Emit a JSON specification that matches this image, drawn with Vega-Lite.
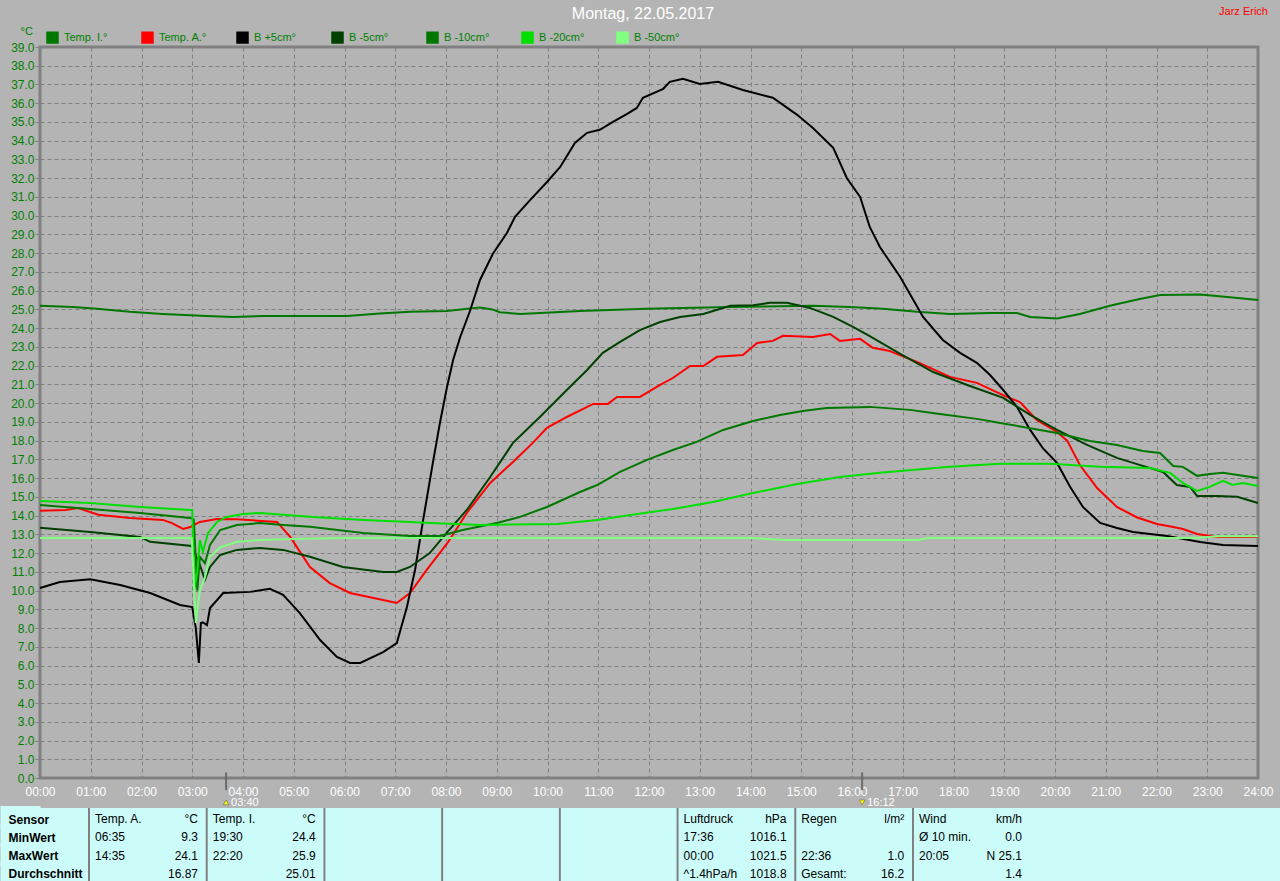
{
"$schema": "https://vega.github.io/schema/vega-lite/v6.json",
"background": "#b4b4b4",
"padding": {"left": -12, "top": 4, "right": 0, "bottom": 0},
"bounds": "flush",
"spacing": 30,
"config": {"font": "Liberation Sans", "view": {"stroke": null}},
"datasets": {
"messwerte": [
{"h":0,"s":"Temp. I.°","v":25.2},{"h":0.65,"s":"Temp. I.°","v":25.13},{"h":1.12,"s":"Temp. I.°","v":25.03},{"h":1.77,"s":"Temp. I.°","v":24.87},{"h":2.42,"s":"Temp. I.°","v":24.76},{"h":3.29,"s":"Temp. I.°","v":24.65},{"h":3.8,"s":"Temp. I.°","v":24.6},{"h":4.39,"s":"Temp. I.°","v":24.65},{"h":6.05,"s":"Temp. I.°","v":24.65},{"h":6.7,"s":"Temp. I.°","v":24.78},{"h":7.29,"s":"Temp. I.°","v":24.87},{"h":8.02,"s":"Temp. I.°","v":24.92},{"h":8.47,"s":"Temp. I.°","v":25.05},{"h":8.67,"s":"Temp. I.°","v":25.1},{"h":8.91,"s":"Temp. I.°","v":25.0},{"h":9.06,"s":"Temp. I.°","v":24.85},{"h":9.46,"s":"Temp. I.°","v":24.76},{"h":10.64,"s":"Temp. I.°","v":24.92},{"h":11.96,"s":"Temp. I.°","v":25.03},{"h":13.6,"s":"Temp. I.°","v":25.13},{"h":15.23,"s":"Temp. I.°","v":25.19},{"h":15.96,"s":"Temp. I.°","v":25.13},{"h":16.61,"s":"Temp. I.°","v":25.03},{"h":17.28,"s":"Temp. I.°","v":24.87},{"h":17.93,"s":"Temp. I.°","v":24.76},{"h":18.72,"s":"Temp. I.°","v":24.81},{"h":19.25,"s":"Temp. I.°","v":24.81},{"h":19.51,"s":"Temp. I.°","v":24.6},{"h":20.04,"s":"Temp. I.°","v":24.52},{"h":20.49,"s":"Temp. I.°","v":24.76},{"h":21.08,"s":"Temp. I.°","v":25.2},{"h":21.67,"s":"Temp. I.°","v":25.56},{"h":22.07,"s":"Temp. I.°","v":25.77},{"h":22.86,"s":"Temp. I.°","v":25.8},{"h":23.5,"s":"Temp. I.°","v":25.63},{"h":24,"s":"Temp. I.°","v":25.5},
{"h":0,"s":"Temp. A.°","v":14.26},{"h":0.5,"s":"Temp. A.°","v":14.3},{"h":0.75,"s":"Temp. A.°","v":14.4},{"h":1.15,"s":"Temp. A.°","v":14.05},{"h":1.77,"s":"Temp. A.°","v":13.87},{"h":2.42,"s":"Temp. A.°","v":13.77},{"h":2.6,"s":"Temp. A.°","v":13.6},{"h":2.82,"s":"Temp. A.°","v":13.29},{"h":2.96,"s":"Temp. A.°","v":13.39},{"h":3.1,"s":"Temp. A.°","v":13.6},{"h":3.15,"s":"Temp. A.°","v":13.66},{"h":3.49,"s":"Temp. A.°","v":13.82},{"h":3.88,"s":"Temp. A.°","v":13.8},{"h":4.67,"s":"Temp. A.°","v":13.66},{"h":4.93,"s":"Temp. A.°","v":12.86},{"h":5.32,"s":"Temp. A.°","v":11.26},{"h":5.71,"s":"Temp. A.°","v":10.4},{"h":6.11,"s":"Temp. A.°","v":9.87},{"h":6.76,"s":"Temp. A.°","v":9.5},{"h":7.03,"s":"Temp. A.°","v":9.34},{"h":7.29,"s":"Temp. A.°","v":9.87},{"h":7.62,"s":"Temp. A.°","v":11.1},{"h":8.03,"s":"Temp. A.°","v":12.54},{"h":8.41,"s":"Temp. A.°","v":14.14},{"h":8.87,"s":"Temp. A.°","v":15.74},{"h":9.32,"s":"Temp. A.°","v":16.86},{"h":9.71,"s":"Temp. A.°","v":17.88},{"h":9.99,"s":"Temp. A.°","v":18.68},{"h":10.38,"s":"Temp. A.°","v":19.26},{"h":10.9,"s":"Temp. A.°","v":19.96},{"h":11.19,"s":"Temp. A.°","v":19.96},{"h":11.37,"s":"Temp. A.°","v":20.33},{"h":11.82,"s":"Temp. A.°","v":20.33},{"h":12.22,"s":"Temp. A.°","v":20.97},{"h":12.47,"s":"Temp. A.°","v":21.34},{"h":12.81,"s":"Temp. A.°","v":21.98},{"h":13.07,"s":"Temp. A.°","v":21.98},{"h":13.34,"s":"Temp. A.°","v":22.47},{"h":13.85,"s":"Temp. A.°","v":22.57},{"h":14.13,"s":"Temp. A.°","v":23.21},{"h":14.44,"s":"Temp. A.°","v":23.32},{"h":14.64,"s":"Temp. A.°","v":23.59},{"h":15.23,"s":"Temp. A.°","v":23.53},{"h":15.57,"s":"Temp. A.°","v":23.69},{"h":15.76,"s":"Temp. A.°","v":23.32},{"h":16.16,"s":"Temp. A.°","v":23.43},{"h":16.41,"s":"Temp. A.°","v":22.95},{"h":16.72,"s":"Temp. A.°","v":22.8},{"h":17.28,"s":"Temp. A.°","v":22.2},{"h":17.93,"s":"Temp. A.°","v":21.4},{"h":18.46,"s":"Temp. A.°","v":21.08},{"h":19.05,"s":"Temp. A.°","v":20.33},{"h":19.31,"s":"Temp. A.°","v":20.06},{"h":19.64,"s":"Temp. A.°","v":19.1},{"h":20.04,"s":"Temp. A.°","v":18.46},{"h":20.24,"s":"Temp. A.°","v":18.0},{"h":20.49,"s":"Temp. A.°","v":16.7},{"h":20.83,"s":"Temp. A.°","v":15.47},{"h":21.22,"s":"Temp. A.°","v":14.46},{"h":21.62,"s":"Temp. A.°","v":13.9},{"h":22.01,"s":"Temp. A.°","v":13.55},{"h":22.33,"s":"Temp. A.°","v":13.39},{"h":22.52,"s":"Temp. A.°","v":13.28},{"h":22.8,"s":"Temp. A.°","v":13.02},{"h":23.19,"s":"Temp. A.°","v":12.86},{"h":24,"s":"Temp. A.°","v":12.86},
{"h":0,"s":"B +5cm°","v":10.14},{"h":0.39,"s":"B +5cm°","v":10.46},{"h":0.99,"s":"B +5cm°","v":10.6},{"h":1.58,"s":"B +5cm°","v":10.3},{"h":2.17,"s":"B +5cm°","v":9.87},{"h":2.76,"s":"B +5cm°","v":9.23},{"h":3.0,"s":"B +5cm°","v":9.12},{"h":3.07,"s":"B +5cm°","v":8.0},{"h":3.13,"s":"B +5cm°","v":6.14},{"h":3.17,"s":"B +5cm°","v":8.27},{"h":3.21,"s":"B +5cm°","v":8.3},{"h":3.29,"s":"B +5cm°","v":8.16},{"h":3.35,"s":"B +5cm°","v":9.07},{"h":3.61,"s":"B +5cm°","v":9.87},{"h":4.14,"s":"B +5cm°","v":9.93},{"h":4.53,"s":"B +5cm°","v":10.09},{"h":4.79,"s":"B +5cm°","v":9.77},{"h":5.12,"s":"B +5cm°","v":8.8},{"h":5.52,"s":"B +5cm°","v":7.36},{"h":5.85,"s":"B +5cm°","v":6.46},{"h":6.11,"s":"B +5cm°","v":6.14},{"h":6.31,"s":"B +5cm°","v":6.14},{"h":6.76,"s":"B +5cm°","v":6.72},{"h":7.03,"s":"B +5cm°","v":7.2},{"h":7.23,"s":"B +5cm°","v":9.12},{"h":7.39,"s":"B +5cm°","v":11.1},{"h":7.55,"s":"B +5cm°","v":13.77},{"h":7.74,"s":"B +5cm°","v":16.8},{"h":7.88,"s":"B +5cm°","v":18.94},{"h":8.02,"s":"B +5cm°","v":20.86},{"h":8.14,"s":"B +5cm°","v":22.3},{"h":8.28,"s":"B +5cm°","v":23.53},{"h":8.47,"s":"B +5cm°","v":24.9},{"h":8.67,"s":"B +5cm°","v":26.57},{"h":8.93,"s":"B +5cm°","v":28.0},{"h":9.2,"s":"B +5cm°","v":29.08},{"h":9.36,"s":"B +5cm°","v":29.94},{"h":9.66,"s":"B +5cm°","v":30.84},{"h":9.99,"s":"B +5cm°","v":31.8},{"h":10.25,"s":"B +5cm°","v":32.6},{"h":10.54,"s":"B +5cm°","v":33.88},{"h":10.78,"s":"B +5cm°","v":34.42},{"h":11.03,"s":"B +5cm°","v":34.58},{"h":11.29,"s":"B +5cm°","v":35.0},{"h":11.57,"s":"B +5cm°","v":35.43},{"h":11.76,"s":"B +5cm°","v":35.75},{"h":11.88,"s":"B +5cm°","v":36.29},{"h":12.28,"s":"B +5cm°","v":36.77},{"h":12.41,"s":"B +5cm°","v":37.14},{"h":12.67,"s":"B +5cm°","v":37.3},{"h":13.0,"s":"B +5cm°","v":37.03},{"h":13.36,"s":"B +5cm°","v":37.14},{"h":13.85,"s":"B +5cm°","v":36.71},{"h":14.44,"s":"B +5cm°","v":36.29},{"h":14.92,"s":"B +5cm°","v":35.38},{"h":15.23,"s":"B +5cm°","v":34.68},{"h":15.63,"s":"B +5cm°","v":33.62},{"h":15.9,"s":"B +5cm°","v":32.0},{"h":16.16,"s":"B +5cm°","v":31.0},{"h":16.35,"s":"B +5cm°","v":29.4},{"h":16.55,"s":"B +5cm°","v":28.33},{"h":16.95,"s":"B +5cm°","v":26.73},{"h":17.4,"s":"B +5cm°","v":24.6},{"h":17.79,"s":"B +5cm°","v":23.37},{"h":18.13,"s":"B +5cm°","v":22.68},{"h":18.46,"s":"B +5cm°","v":22.15},{"h":18.72,"s":"B +5cm°","v":21.5},{"h":18.98,"s":"B +5cm°","v":20.7},{"h":19.25,"s":"B +5cm°","v":19.8},{"h":19.51,"s":"B +5cm°","v":18.57},{"h":19.76,"s":"B +5cm°","v":17.6},{"h":20.04,"s":"B +5cm°","v":16.81},{"h":20.3,"s":"B +5cm°","v":15.53},{"h":20.55,"s":"B +5cm°","v":14.46},{"h":20.89,"s":"B +5cm°","v":13.61},{"h":21.22,"s":"B +5cm°","v":13.34},{"h":21.54,"s":"B +5cm°","v":13.13},{"h":22.21,"s":"B +5cm°","v":12.91},{"h":22.86,"s":"B +5cm°","v":12.59},{"h":23.31,"s":"B +5cm°","v":12.43},{"h":24,"s":"B +5cm°","v":12.38},
{"h":0,"s":"B -5cm°","v":13.35},{"h":0.99,"s":"B -5cm°","v":13.13},{"h":1.97,"s":"B -5cm°","v":12.86},{"h":2.17,"s":"B -5cm°","v":12.6},{"h":2.99,"s":"B -5cm°","v":12.38},{"h":3.15,"s":"B -5cm°","v":11.37},{"h":3.25,"s":"B -5cm°","v":10.57},{"h":3.35,"s":"B -5cm°","v":11.26},{"h":3.55,"s":"B -5cm°","v":11.9},{"h":3.88,"s":"B -5cm°","v":12.17},{"h":4.33,"s":"B -5cm°","v":12.27},{"h":4.79,"s":"B -5cm°","v":12.17},{"h":5.32,"s":"B -5cm°","v":11.8},{"h":5.97,"s":"B -5cm°","v":11.26},{"h":6.76,"s":"B -5cm°","v":10.99},{"h":7.03,"s":"B -5cm°","v":10.99},{"h":7.29,"s":"B -5cm°","v":11.26},{"h":7.68,"s":"B -5cm°","v":12.0},{"h":8.02,"s":"B -5cm°","v":13.1},{"h":8.41,"s":"B -5cm°","v":14.3},{"h":8.87,"s":"B -5cm°","v":16.06},{"h":9.32,"s":"B -5cm°","v":17.88},{"h":9.85,"s":"B -5cm°","v":19.26},{"h":10.38,"s":"B -5cm°","v":20.7},{"h":10.78,"s":"B -5cm°","v":21.77},{"h":11.09,"s":"B -5cm°","v":22.68},{"h":11.43,"s":"B -5cm°","v":23.27},{"h":11.82,"s":"B -5cm°","v":23.9},{"h":12.22,"s":"B -5cm°","v":24.33},{"h":12.61,"s":"B -5cm°","v":24.6},{"h":13.07,"s":"B -5cm°","v":24.76},{"h":13.6,"s":"B -5cm°","v":25.19},{"h":14.05,"s":"B -5cm°","v":25.22},{"h":14.38,"s":"B -5cm°","v":25.35},{"h":14.72,"s":"B -5cm°","v":25.35},{"h":15.17,"s":"B -5cm°","v":25.08},{"h":15.63,"s":"B -5cm°","v":24.6},{"h":16.02,"s":"B -5cm°","v":24.07},{"h":16.35,"s":"B -5cm°","v":23.58},{"h":16.95,"s":"B -5cm°","v":22.63},{"h":17.6,"s":"B -5cm°","v":21.66},{"h":18.27,"s":"B -5cm°","v":20.97},{"h":18.98,"s":"B -5cm°","v":20.28},{"h":19.51,"s":"B -5cm°","v":19.37},{"h":20.04,"s":"B -5cm°","v":18.57},{"h":20.63,"s":"B -5cm°","v":17.77},{"h":21.22,"s":"B -5cm°","v":17.08},{"h":21.73,"s":"B -5cm°","v":16.65},{"h":22.13,"s":"B -5cm°","v":16.33},{"h":22.4,"s":"B -5cm°","v":15.63},{"h":22.66,"s":"B -5cm°","v":15.53},{"h":22.8,"s":"B -5cm°","v":15.05},{"h":23.19,"s":"B -5cm°","v":15.05},{"h":23.59,"s":"B -5cm°","v":15.0},{"h":24,"s":"B -5cm°","v":14.67},
{"h":0,"s":"B -10cm°","v":14.57},{"h":0.99,"s":"B -10cm°","v":14.35},{"h":1.97,"s":"B -10cm°","v":14.14},{"h":2.96,"s":"B -10cm°","v":13.87},{"h":3.03,"s":"B -10cm°","v":13.8},{"h":3.1,"s":"B -10cm°","v":10.0},{"h":3.15,"s":"B -10cm°","v":11.8},{"h":3.25,"s":"B -10cm°","v":11.47},{"h":3.35,"s":"B -10cm°","v":12.43},{"h":3.55,"s":"B -10cm°","v":13.23},{"h":3.88,"s":"B -10cm°","v":13.5},{"h":4.33,"s":"B -10cm°","v":13.6},{"h":4.79,"s":"B -10cm°","v":13.5},{"h":5.32,"s":"B -10cm°","v":13.4},{"h":6.37,"s":"B -10cm°","v":13.07},{"h":7.29,"s":"B -10cm°","v":12.91},{"h":7.88,"s":"B -10cm°","v":12.91},{"h":8.33,"s":"B -10cm°","v":13.23},{"h":9.0,"s":"B -10cm°","v":13.6},{"h":9.46,"s":"B -10cm°","v":13.93},{"h":9.99,"s":"B -10cm°","v":14.46},{"h":10.64,"s":"B -10cm°","v":15.26},{"h":10.98,"s":"B -10cm°","v":15.63},{"h":11.43,"s":"B -10cm°","v":16.33},{"h":11.96,"s":"B -10cm°","v":16.97},{"h":12.47,"s":"B -10cm°","v":17.5},{"h":12.94,"s":"B -10cm°","v":17.93},{"h":13.46,"s":"B -10cm°","v":18.57},{"h":14.05,"s":"B -10cm°","v":19.05},{"h":14.58,"s":"B -10cm°","v":19.37},{"h":15.03,"s":"B -10cm°","v":19.58},{"h":15.5,"s":"B -10cm°","v":19.74},{"h":16.35,"s":"B -10cm°","v":19.8},{"h":17.14,"s":"B -10cm°","v":19.64},{"h":17.73,"s":"B -10cm°","v":19.42},{"h":18.46,"s":"B -10cm°","v":19.16},{"h":18.92,"s":"B -10cm°","v":18.94},{"h":19.37,"s":"B -10cm°","v":18.73},{"h":20.04,"s":"B -10cm°","v":18.41},{"h":20.69,"s":"B -10cm°","v":17.98},{"h":21.22,"s":"B -10cm°","v":17.77},{"h":21.73,"s":"B -10cm°","v":17.45},{"h":22.07,"s":"B -10cm°","v":17.34},{"h":22.33,"s":"B -10cm°","v":16.65},{"h":22.52,"s":"B -10cm°","v":16.6},{"h":22.8,"s":"B -10cm°","v":16.12},{"h":23.05,"s":"B -10cm°","v":16.22},{"h":23.31,"s":"B -10cm°","v":16.28},{"h":23.7,"s":"B -10cm°","v":16.12},{"h":24,"s":"B -10cm°","v":16.0},
{"h":0,"s":"B -20cm°","v":14.78},{"h":0.99,"s":"B -20cm°","v":14.67},{"h":1.97,"s":"B -20cm°","v":14.46},{"h":2.96,"s":"B -20cm°","v":14.3},{"h":3.0,"s":"B -20cm°","v":14.3},{"h":3.04,"s":"B -20cm°","v":10.0},{"h":3.1,"s":"B -20cm°","v":11.0},{"h":3.15,"s":"B -20cm°","v":12.7},{"h":3.21,"s":"B -20cm°","v":12.06},{"h":3.31,"s":"B -20cm°","v":13.07},{"h":3.49,"s":"B -20cm°","v":13.66},{"h":3.68,"s":"B -20cm°","v":13.93},{"h":4.0,"s":"B -20cm°","v":14.09},{"h":4.33,"s":"B -20cm°","v":14.14},{"h":5.38,"s":"B -20cm°","v":13.93},{"h":6.37,"s":"B -20cm°","v":13.77},{"h":7.29,"s":"B -20cm°","v":13.66},{"h":7.7,"s":"B -20cm°","v":13.6},{"h":8.67,"s":"B -20cm°","v":13.5},{"h":10.19,"s":"B -20cm°","v":13.55},{"h":10.98,"s":"B -20cm°","v":13.77},{"h":11.63,"s":"B -20cm°","v":14.03},{"h":12.47,"s":"B -20cm°","v":14.35},{"h":13.26,"s":"B -20cm°","v":14.73},{"h":14.05,"s":"B -20cm°","v":15.2},{"h":14.92,"s":"B -20cm°","v":15.69},{"h":15.76,"s":"B -20cm°","v":16.06},{"h":16.55,"s":"B -20cm°","v":16.28},{"h":16.95,"s":"B -20cm°","v":16.38},{"h":17.93,"s":"B -20cm°","v":16.6},{"h":18.92,"s":"B -20cm°","v":16.76},{"h":19.9,"s":"B -20cm°","v":16.76},{"h":20.89,"s":"B -20cm°","v":16.6},{"h":21.87,"s":"B -20cm°","v":16.54},{"h":22.27,"s":"B -20cm°","v":16.28},{"h":22.52,"s":"B -20cm°","v":15.74},{"h":22.8,"s":"B -20cm°","v":15.31},{"h":23.05,"s":"B -20cm°","v":15.53},{"h":23.31,"s":"B -20cm°","v":15.85},{"h":23.5,"s":"B -20cm°","v":15.63},{"h":23.7,"s":"B -20cm°","v":15.74},{"h":24,"s":"B -20cm°","v":15.58},
{"h":0,"s":"B -50cm°","v":12.8},{"h":2.99,"s":"B -50cm°","v":12.8},{"h":3.07,"s":"B -50cm°","v":8.27},{"h":3.15,"s":"B -50cm°","v":10.0},{"h":3.25,"s":"B -50cm°","v":10.7},{"h":3.35,"s":"B -50cm°","v":11.8},{"h":3.55,"s":"B -50cm°","v":12.3},{"h":3.88,"s":"B -50cm°","v":12.6},{"h":4.33,"s":"B -50cm°","v":12.7},{"h":4.93,"s":"B -50cm°","v":12.75},{"h":6.0,"s":"B -50cm°","v":12.8},{"h":14.0,"s":"B -50cm°","v":12.8},{"h":14.7,"s":"B -50cm°","v":12.7},{"h":17.3,"s":"B -50cm°","v":12.7},{"h":17.5,"s":"B -50cm°","v":12.8},{"h":22.8,"s":"B -50cm°","v":12.8},{"h":23.2,"s":"B -50cm°","v":12.9},{"h":24,"s":"B -50cm°","v":12.9}
],
"ereignisse": [
{"h": 3.667, "zeit": "03:40", "art": "Sonnenaufgang"},
{"h": 16.2, "zeit": "16:12", "art": "Sonnenuntergang"}
],
"autor": [{"name": "Jarz Erich"}],
"spalten": [{"spalte":1},{"spalte":2},{"spalte":3},{"spalte":4},{"spalte":5},{"spalte":6},{"spalte":7},{"spalte":8}],
"tabelle": [
{"zeile":"Sensor","spalte":1,"links":"Temp. A.","rechts":"°C"},
{"zeile":"Sensor","spalte":2,"links":"Temp. I.","rechts":"°C"},
{"zeile":"Sensor","spalte":6,"links":"Luftdruck","rechts":"hPa"},
{"zeile":"Sensor","spalte":7,"links":"Regen","rechts":"l/m²"},
{"zeile":"Sensor","spalte":8,"links":"Wind","rechts":"km/h"},
{"zeile":"MinWert","spalte":1,"links":"\u00a0\u00a006:35","rechts":"9.3"},
{"zeile":"MinWert","spalte":2,"links":"\u00a0\u00a019:30","rechts":"24.4"},
{"zeile":"MinWert","spalte":6,"links":"\u00a0\u00a017:36","rechts":"1016.1"},
{"zeile":"MinWert","spalte":8,"links":"Ø 10 min.","rechts":"0.0"},
{"zeile":"MaxWert","spalte":1,"links":"\u00a0\u00a014:35","rechts":"24.1"},
{"zeile":"MaxWert","spalte":2,"links":"\u00a0\u00a022:20","rechts":"25.9"},
{"zeile":"MaxWert","spalte":6,"links":"\u00a0\u00a000:00","rechts":"1021.5"},
{"zeile":"MaxWert","spalte":7,"links":"\u00a0\u00a022:36","rechts":"1.0"},
{"zeile":"MaxWert","spalte":8,"links":"\u00a0\u00a020:05","rechts":"N 25.1"},
{"zeile":"Durchschnitt","spalte":1,"links":"","rechts":"16.87"},
{"zeile":"Durchschnitt","spalte":2,"links":"","rechts":"25.01"},
{"zeile":"Durchschnitt","spalte":6,"links":"^1.4hPa/h","rechts":"1018.8"},
{"zeile":"Durchschnitt","spalte":7,"links":"Gesamt:","rechts":"16.2"},
{"zeile":"Durchschnitt","spalte":8,"links":"","rechts":"1.4"}
]
},
"vconcat": [
{
"width": 1218,
"height": 731,
"view": {"fill": "#b4b4b4", "stroke": "#808080", "strokeWidth": 3},
"title": {"text": "Montag, 22.05.2017", "color": "#ffffff", "fontSize": 16, "fontWeight": "normal", "font": "Liberation Sans", "anchor": "middle", "offset": -16, "dx": -6},
"layer": [
{
"data": {"name": "messwerte"},
"mark": {"type": "line", "interpolate": "linear"},
"encoding": {
"x": {"field": "h", "type": "quantitative", "scale": {"domain": [0, 24], "nice": false, "zero": false},
"axis": {"values": [0,1,2,3,4,5,6,7,8,9,10,11,12,13,14,15,16,17,18,19,20,21,22,23,24], "tickCount": 25, "labelExpr": "(datum.value < 10 ? '0' : '') + datum.value + ':00'", "labelColor": "#ffffff", "labelFontSize": 12, "labelFont": "Liberation Sans", "labelPadding": 8, "ticks": false, "domain": false, "grid": true, "gridColor": "#808080", "gridDash": [4, 3], "gridWidth": 1, "title": null, "labelFlush": false, "labelOverlap": false}},
"y": {"field": "v", "type": "quantitative", "scale": {"domain": [0, 39], "nice": false, "zero": false},
"axis": {"values": [0,1,2,3,4,5,6,7,8,9,10,11,12,13,14,15,16,17,18,19,20,21,22,23,24,25,26,27,28,29,30,31,32,33,34,35,36,37,38,39], "tickCount": 40, "format": ".1f", "labelColor": "#008000", "labelFontSize": 12, "labelFont": "Liberation Sans", "labelPadding": 1, "tickSize": 5, "tickColor": "#808080", "domain": false, "grid": true, "gridColor": "#808080", "gridDash": [4, 3], "gridWidth": 1, "labelOverlap": false, "labelFlush": false, "title": "°C", "titleAngle": 0, "titleX": -20, "titleY": -16, "titleAlign": "left", "titleBaseline": "middle", "titleColor": "#008000", "titleFontSize": 11, "titleFontWeight": "normal", "titleFont": "Liberation Sans"}},
"color": {"field": "s", "type": "nominal",
"scale": {"domain": ["Temp. I.°", "Temp. A.°", "B +5cm°", "B -5cm°", "B -10cm°", "B -20cm°", "B -50cm°"], "range": ["#007800", "#ff0000", "#000000", "#004000", "#007800", "#00e000", "#80ff80"]},
"legend": {"orient": "none", "legendX": 6, "legendY": -16, "direction": "horizontal", "columns": 7, "gridAlign": "all", "columnPadding": 26, "symbolType": "square", "symbolSize": 110, "labelColor": "#008000", "labelFontSize": 11, "labelFont": "Liberation Sans", "labelOffset": 5, "title": null, "padding": 0,
"encode": {"symbols": {"update": {"fill": {"scale": "color", "field": "value"}, "fillOpacity": {"value": 1}, "stroke": {"value": "#ffffff"}, "strokeWidth": {"value": 1}}}}}},
"strokeWidth": {"field": "s", "type": "nominal", "scale": {"domain": ["Temp. I.°", "Temp. A.°", "B +5cm°", "B -5cm°", "B -10cm°", "B -20cm°", "B -50cm°"], "range": [2, 2, 2, 3, 3, 3, 3]}, "legend": null}
}
},
{
"data": {"name": "ereignisse"},
"mark": {"type": "rule", "color": "#6a6a6a", "strokeWidth": 2},
"encoding": {
"x": {"field": "h", "type": "quantitative"},
"y": {"datum": 0.3},
"y2": {"datum": -0.65}
}
},
{
"data": {"name": "ereignisse"},
"mark": {"type": "point", "filled": true, "color": "#ffff00", "stroke": "#505050", "strokeWidth": 0.5, "size": 30, "opacity": 1},
"encoding": {
"x": {"field": "h", "type": "quantitative"},
"y": {"datum": -1.3},
"shape": {"field": "art", "type": "nominal", "scale": {"domain": ["Sonnenaufgang", "Sonnenuntergang"], "range": ["triangle-up", "triangle-down"]}, "legend": null}
}
},
{
"data": {"name": "ereignisse"},
"mark": {"type": "text", "align": "left", "baseline": "middle", "dx": 5, "color": "#ffffff", "fontSize": 11, "font": "Liberation Sans"},
"encoding": {
"x": {"field": "h", "type": "quantitative"},
"y": {"datum": -1.35},
"text": {"field": "zeit"}
}
},
{
"data": {"name": "autor"},
"mark": {"type": "text", "align": "right", "baseline": "middle", "dx": 10, "dy": -35, "color": "#ff0000", "fontSize": 11, "font": "Liberation Sans"},
"encoding": {
"x": {"datum": 24},
"y": {"datum": 39},
"text": {"field": "name"}
}
}
]
},
{
"width": 1240,
"height": 73,
"view": {"fill": "#ccfcfa", "stroke": null},
"layer": [
{
"data": {"name": "spalten"},
"mark": {"type": "rule", "color": "#808080", "strokeWidth": 2},
"encoding": {
"x": {"field": "spalte", "type": "quantitative", "scale": {"domain": [0.5837, 11.118], "nice": false, "zero": false}, "axis": null}
}
},
{
"data": {"name": "tabelle"},
"mark": {"type": "text", "align": "left", "baseline": "middle", "dx": 6, "dy": 2, "fontSize": 12, "font": "Liberation Sans", "color": "#000000"},
"encoding": {
"x": {"field": "spalte", "type": "quantitative"},
"y": {"field": "zeile", "type": "ordinal", "scale": {"type": "point", "domain": ["Sensor", "MinWert", "MaxWert", "Durchschnitt"], "paddingOuter": 0.75},
"axis": {"title": null, "domain": false, "grid": false, "ticks": true, "tickSize": 40, "tickWidth": 23, "tickColor": "#ccfcfa", "labelAlign": "left", "labelBaseline": "middle", "labelPadding": -8, "labelOffset": 2, "labelFontWeight": "bold", "labelColor": "#000000", "labelFontSize": 12, "labelFont": "Liberation Sans"}},
"text": {"field": "links"},
"fontWeight": {"condition": {"test": "datum.zeile === 'Sensor'", "value": "bold"}, "value": "normal"}
}
},
{
"data": {"name": "tabelle"},
"mark": {"type": "text", "align": "right", "baseline": "middle", "dx": 109, "dy": 2, "fontSize": 12, "font": "Liberation Sans", "color": "#000000"},
"encoding": {
"x": {"field": "spalte", "type": "quantitative"},
"y": {"field": "zeile", "type": "ordinal"},
"text": {"field": "rechts"},
"fontWeight": {"condition": {"test": "datum.zeile === 'Sensor'", "value": "bold"}, "value": "normal"}
}
}
]
}
]
}
